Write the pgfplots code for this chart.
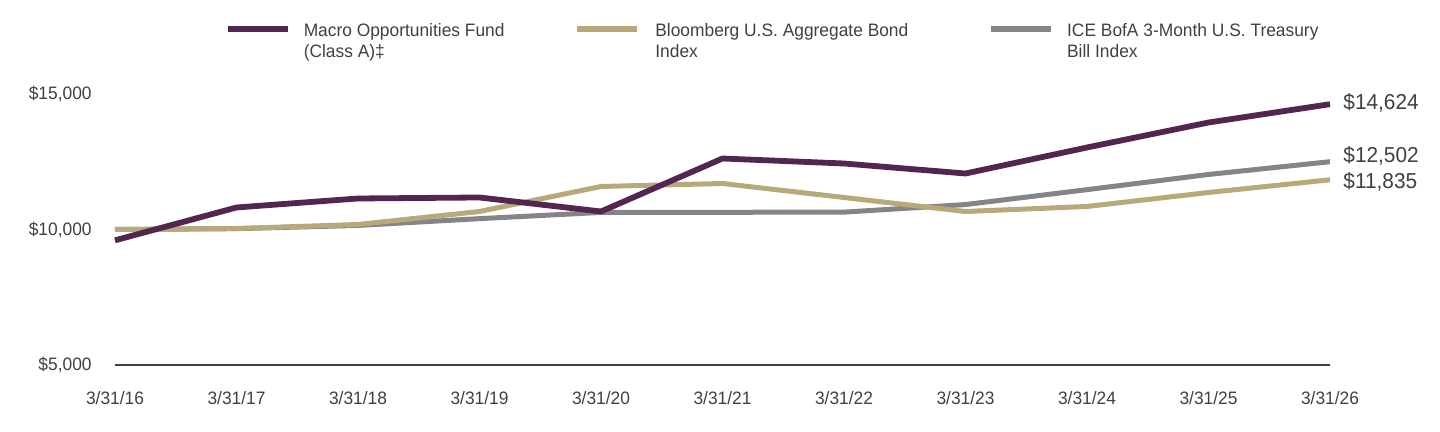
\documentclass[border=0pt]{standalone}
\usepackage{fontspec}
\setmainfont{Liberation Sans}[FakeStretch=0.965]
\usepackage{pgfplots}
\pgfplotsset{compat=1.18}
\definecolor{fundc}{HTML}{532650}
\definecolor{bondc}{HTML}{B8A97A}
\definecolor{billc}{HTML}{848489}
\definecolor{txt}{HTML}{404040}
\begin{document}
\begin{tikzpicture}
\useasboundingbox (-57.5pt,-33.5pt) rectangle (662.5pt,182.5pt);
\begin{axis}[
  at={(0,0)}, anchor=south west,
  width=607.5pt, height=135.5pt, scale only axis,
  xmin=0, xmax=10, ymin=5000, ymax=15000,
  clip=false,
  axis x line=bottom, axis y line=left,
  x axis line style={-, draw=txt, line width=1pt},
  y axis line style={draw=none},
  xtick={0,...,10},
  xticklabels={3/31/16,3/31/17,3/31/18,3/31/19,3/31/20,3/31/21,3/31/22,3/31/23,3/31/24,3/31/25,3/31/26},
  ytick={5000,10000,15000},
  scaled y ticks=false,
  major tick length=0pt,
  yticklabel={\$\pgfmathprintnumber{\tick}},
  /pgf/number format/1000 sep={,},
  /pgf/number format/assume math mode=true,
  tick label style={font=\fontsize{9}{10.8}\selectfont, text=txt},
  yticklabel style={anchor=east, inner sep=0pt, xshift=-11.5pt},
  xticklabel style={anchor=base, inner sep=0pt, yshift=-20pt},
  legend style={draw=none, fill=none, inner sep=0pt, outer sep=0pt,
    at={(axis description cs:0.0905,1.28)}, anchor=north west,
    font=\fontsize{9}{10.5}\selectfont, text=txt,
    /tikz/every odd column/.append style={column sep=4.5pt},
    /tikz/every even column/.append style={column sep=33pt}},
  legend columns=3,
  legend cell align=left,
  reverse legend,
  legend image code/.code={\draw[#1, line width=2.9pt] (0pt,0.8pt) -- (30pt,0.8pt);},
]
\addplot[billc, line width=2.5pt] coordinates {
(0,10000) (1,10030) (2,10150) (3,10400) (4,10630) (5,10635) (6,10640) (7,10920) (8,11470) (9,12030) (10,12502)};
\addlegendentry{\begin{tabular}[t]{@{}l@{}}ICE BofA 3-Month U.S. Treasury\\Bill Index\end{tabular}}
\addplot[bondc, line width=2.5pt] coordinates {
(0,10000) (1,10037) (2,10185) (3,10664) (4,11587) (5,11697) (6,11181) (7,10664) (8,10849) (9,11365) (10,11835)};
\addlegendentry{\makebox[1pt]{}\begin{tabular}[t]{@{}l@{}}Bloomberg U.S. Aggregate Bond\\Index\end{tabular}\makebox[5pt]{}}
\addplot[fundc, line width=2.9pt] coordinates {
(0,9600) (1,10812) (2,11144) (3,11181) (4,10664) (5,12620) (6,12435) (7,12066) (8,13026) (9,13948) (10,14624)};
\addlegendentry{\begin{tabular}[t]{@{}l@{}}Macro Opportunities Fund\\(Class A)‡\end{tabular}}
\node[anchor=west, inner sep=0pt, xshift=6.5pt, text=txt, font=\fontsize{10.8}{12.5}\selectfont] at (axis cs:10,14686) {\$14,624};
\node[anchor=west, inner sep=0pt, xshift=6.5pt, text=txt, font=\fontsize{10.8}{12.5}\selectfont] at (axis cs:10,12731) {\$12,502};
\node[anchor=west, inner sep=0pt, xshift=6.5pt, text=txt, font=\fontsize{10.8}{12.5}\selectfont] at (axis cs:10,11771) {\$11,835};
\end{axis}
\end{tikzpicture}
\end{document}
